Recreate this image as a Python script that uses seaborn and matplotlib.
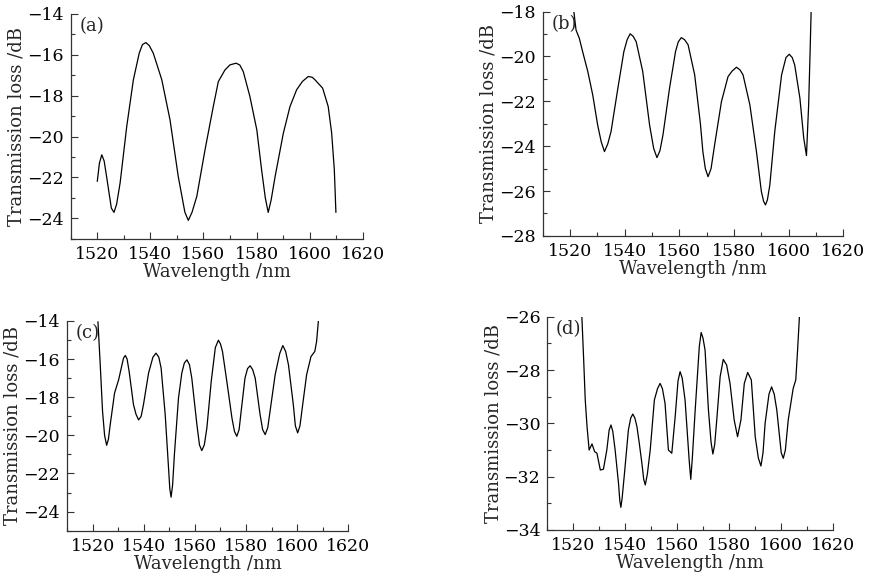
import matplotlib
matplotlib.use("Agg")
import matplotlib.pyplot as plt
import seaborn as sns
import pandas as pd
from matplotlib.ticker import MultipleLocator

# panel (a)
wl_a = [1520.0, 1520.8, 1521.7, 1522.6, 1523.5, 1525.3, 1526.3, 1527.3, 1528.6, 1531.1,
        1533.6, 1535.8, 1537.0, 1538.3, 1539.6, 1541.1, 1544.3, 1547.4, 1550.5, 1553.0,
        1554.3, 1555.7, 1557.5, 1560.6, 1563.7, 1565.6, 1568.1, 1570.0, 1572.3, 1573.7,
        1575.0, 1577.5, 1580.1, 1581.9, 1583.3, 1584.4, 1585.5, 1587.0, 1590.1, 1592.6,
        1595.1, 1597.3, 1599.5, 1601.0, 1602.0, 1604.9, 1607.0, 1608.3, 1609.3, 1609.9]
loss_a = [-22.19, -21.30, -20.89, -21.20, -21.95, -23.50, -23.71, -23.30, -22.27, -19.50,
          -17.22, -15.92, -15.50, -15.40, -15.55, -15.92, -17.22, -19.18, -21.95, -23.70,
          -24.10, -23.70, -22.92, -20.64, -18.53, -17.31, -16.74, -16.49, -16.41, -16.50,
          -16.82, -18.04, -19.67, -21.62, -23.00, -23.71, -23.10, -21.95, -19.83, -18.53,
          -17.71, -17.30, -17.06, -17.10, -17.22, -17.63, -18.53, -19.83, -21.62, -23.71]

# panel (b)
wl_b = [1521.4, 1522.2, 1523.4, 1524.6, 1526.5, 1528.3, 1530.1, 1531.4, 1532.6, 1533.8,
        1535.0, 1537.5, 1539.7, 1540.9, 1542.0, 1543.1, 1544.2, 1546.6, 1549.1, 1550.6,
        1551.8, 1552.9, 1554.0, 1556.4, 1558.6, 1559.6, 1560.7, 1561.9, 1563.2, 1565.6,
        1567.7, 1568.6, 1569.5, 1570.5, 1571.6, 1572.9, 1575.4, 1577.8, 1579.3, 1580.9,
        1582.2, 1583.3, 1585.8, 1588.2, 1590.0, 1590.8, 1591.5, 1592.2, 1593.1, 1594.9,
        1597.4, 1599.0, 1600.2, 1601.3, 1602.2, 1604.1, 1605.5, 1606.5, 1607.3, 1607.8,
        1608.2]
loss_b = [-18.00, -18.82, -19.19, -19.78, -20.67, -21.71, -23.05, -23.80, -24.24, -23.90,
          -23.35, -21.42, -19.78, -19.25, -18.99, -19.10, -19.34, -20.67, -23.05, -24.10,
          -24.51, -24.20, -23.50, -21.42, -19.78, -19.35, -19.16, -19.25, -19.48, -20.82,
          -23.00, -24.24, -25.00, -25.36, -25.00, -23.94, -22.01, -20.90, -20.65, -20.48,
          -20.60, -20.82, -22.16, -24.24, -26.02, -26.45, -26.62, -26.40, -25.73, -23.35,
          -20.82, -20.05, -19.90, -20.05, -20.38, -21.86, -23.64, -24.42, -22.16, -19.93,
          -18.03]

# panel (c)
wl_c = [1522.1, 1523.0, 1523.9, 1524.7, 1525.5, 1526.2, 1526.9, 1528.6, 1530.2, 1531.5,
        1532.1, 1532.8, 1533.5, 1534.3, 1536.0, 1537.0, 1538.0, 1539.0, 1539.9, 1541.9,
        1543.6, 1544.8, 1545.9, 1546.8, 1548.4, 1549.7, 1550.2, 1550.7, 1551.3, 1552.0,
        1553.6, 1554.9, 1555.9, 1556.9, 1557.9, 1558.8, 1560.8, 1561.8, 1562.7, 1563.7,
        1564.7, 1566.4, 1568.0, 1569.2, 1570.0, 1570.8, 1572.5, 1574.5, 1575.5, 1576.4,
        1577.3, 1578.1, 1579.6, 1580.6, 1581.6, 1582.6, 1583.6, 1585.5, 1586.5, 1587.5,
        1588.5, 1589.4, 1591.4, 1593.2, 1594.4, 1595.5, 1596.6, 1598.5, 1599.3, 1600.2,
        1601.1, 1602.0, 1603.7, 1605.4, 1606.9, 1607.6, 1608.3]
loss_c = [-14.04, -16.30, -18.74, -20.00, -20.52, -20.20, -19.44, -17.78, -17.08, -16.30,
          -15.95, -15.81, -16.00, -16.65, -18.39, -18.90, -19.19, -19.00, -18.39, -16.73,
          -15.90, -15.69, -15.90, -16.47, -18.91, -21.70, -22.80, -23.24, -22.60, -21.00,
          -18.04, -16.73, -16.20, -16.04, -16.30, -17.00, -19.44, -20.50, -20.80, -20.50,
          -19.61, -17.17, -15.40, -15.01, -15.20, -15.60, -17.17, -19.09, -19.80, -20.05,
          -19.70, -18.74, -17.00, -16.50, -16.35, -16.55, -17.00, -18.91, -19.70, -19.96,
          -19.60, -18.74, -16.82, -15.70, -15.29, -15.60, -16.30, -18.39, -19.50, -19.87,
          -19.50, -18.56, -16.82, -15.87, -15.60, -15.08, -14.00]

# panel (d)
wl_d = [1523.3, 1524.0, 1524.6, 1525.3, 1526.1, 1527.2, 1528.2, 1529.1, 1530.4, 1531.6,
        1532.9, 1533.8, 1534.5, 1535.2, 1536.1, 1537.4, 1537.9, 1538.3, 1538.8, 1539.7,
        1541.2, 1542.1, 1542.9, 1543.7, 1544.5, 1545.4, 1546.4, 1547.1, 1547.7, 1548.5,
        1549.6, 1551.2, 1552.4, 1553.4, 1554.3, 1555.3, 1556.6, 1557.9, 1559.2, 1560.3,
        1561.1, 1561.9, 1563.0, 1564.6, 1565.2, 1565.8, 1566.9, 1568.5, 1569.2, 1569.9,
        1570.7, 1572.0, 1573.0, 1573.7, 1574.4, 1575.2, 1576.5, 1577.7, 1579.0, 1580.3,
        1581.9, 1583.2, 1584.5, 1585.8, 1587.1, 1588.5, 1590.0, 1591.2, 1592.2, 1593.0,
        1593.8, 1595.3, 1596.3, 1597.3, 1598.3, 1600.0, 1600.8, 1601.6, 1602.7, 1604.6,
        1605.6, 1606.3, 1607.0]
loss_d = [-26.00, -27.62, -29.12, -30.13, -31.00, -30.77, -31.06, -31.12, -31.75, -31.72,
          -31.00, -30.25, -30.06, -30.30, -31.00, -32.25, -32.90, -33.15, -32.80, -31.87,
          -30.25, -29.80, -29.65, -29.80, -30.13, -30.75, -31.50, -32.10, -32.31, -31.90,
          -31.00, -29.12, -28.70, -28.50, -28.70, -29.25, -31.00, -31.12, -29.75, -28.40,
          -28.06, -28.30, -29.12, -31.40, -32.10, -31.30, -29.50, -27.10, -26.59, -26.80,
          -27.25, -29.50, -30.70, -31.15, -30.80, -29.87, -28.25, -27.60, -27.81, -28.50,
          -29.87, -30.50, -29.87, -28.50, -28.09, -28.37, -30.50, -31.30, -31.60, -31.10,
          -30.00, -28.90, -28.63, -28.90, -29.50, -31.10, -31.31, -31.00, -29.87, -28.69,
          -28.37, -27.25, -26.00]

panel_tags = ["(a)", "(b)", "(c)", "(d)"]
y_limits = [(-25, -14), (-28, -18), (-25, -14), (-34, -26)]

sns.set_theme(style="ticks")
plt.rcParams["font.family"] = ["DejaVu Serif"]

fig = plt.figure(figsize=(8.69, 5.81), dpi=100)
rects = [
    [0.0814, 0.589, 0.336, 0.387],
    [0.6245, 0.594, 0.346, 0.386],
    [0.0771, 0.0866, 0.3237, 0.361],
    [0.6298, 0.0878, 0.329, 0.367],
]
series = [(wl_a, loss_a), (wl_b, loss_b), (wl_c, loss_c), (wl_d, loss_d)]

for rect, (wl, loss), tag, ylim in zip(rects, series, panel_tags, y_limits):
    ax = fig.add_axes(rect)
    df = pd.DataFrame({"wl": wl, "loss": loss})
    sns.lineplot(data=df, x="wl", y="loss", sort=False, estimator=None,
                 color="black", linewidth=0.9, ax=ax)
    ax.set_xlim(1510, 1620)
    ax.set_ylim(*ylim)
    ax.xaxis.set_major_locator(MultipleLocator(20))
    ax.xaxis.set_minor_locator(MultipleLocator(10))
    ax.yaxis.set_major_locator(MultipleLocator(2))
    ax.yaxis.set_minor_locator(MultipleLocator(1))
    ax.tick_params(which="major", direction="in", length=5, width=0.8,
                   labelsize=12.5, colors="#333333", labelcolor="black", pad=5)
    ax.tick_params(which="minor", direction="in", length=3, width=0.8, colors="#333333")
    sns.despine(ax=ax)
    for side in ["left", "bottom"]:
        ax.spines[side].set_color("#333333")
        ax.spines[side].set_linewidth(0.9)
    ax.set_xlabel("Wavelength /nm", fontsize=13, labelpad=0)
    ax.set_ylabel("Transmission loss /dB", fontsize=13, labelpad=1)
    ax.text(0.03, 0.985, tag, transform=ax.transAxes, fontsize=13,
            ha="left", va="top")

fig.savefig("out.png", dpi=100)
